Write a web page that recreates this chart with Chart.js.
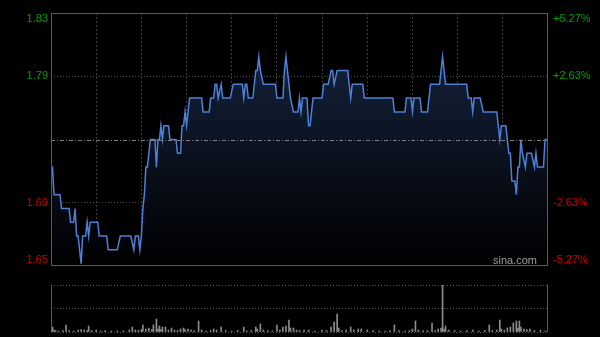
<!DOCTYPE html>
<html>
<head>
<meta charset="utf-8">
<script src="https://cdn.jsdelivr.net/npm/chart.js@4.4.0/dist/chart.umd.min.js"></script>
<style>
  html, body { margin: 0; padding: 0; background: #000; }
  #wrap { position: relative; width: 600px; height: 337px; background: #000; }
  #priceBox { position: absolute; left: 0; top: 0; width: 600px; height: 272px; }
  #volBox { position: absolute; left: 0; top: 272px; width: 600px; height: 65px; }
</style>
</head>
<body>
<div id="wrap">
  <div id="priceBox"><canvas id="priceChart"></canvas></div>
  <div id="volBox"><canvas id="volChart"></canvas></div>
</div>
<script>
// minute of the session (0..330) where the price changes, and the price there
const minutes = [0, 1, 2, 6, 7, 12, 13, 15, 16, 17, 18, 20, 21, 23, 24, 25, 26, 31, 32, 37,
  38, 44, 46, 53, 55, 56, 58, 59, 60, 61, 62, 63, 64, 65, 66, 69, 70, 71, 72, 73,
  74, 75, 78, 79, 83, 84, 86, 87, 88, 89, 90, 92, 100, 101, 105, 106, 108, 109, 110, 111,
  113, 114, 119, 121, 127, 128, 129, 130, 131, 134, 136, 137, 138, 139, 141, 149, 150, 154, 155, 156,
  158, 159, 161, 164, 165, 166, 167, 170, 171, 172, 174, 180, 181, 184, 186, 187, 188, 190, 197, 199,
  200, 207, 208, 227, 228, 235, 236, 239, 240, 241, 245, 246, 250, 252, 258, 260, 262, 276, 277, 279,
  280, 281, 285, 287, 296, 298, 299, 302, 304, 305, 306, 308, 309, 310, 311, 312, 313, 315, 316, 319,
  321, 322, 323, 327, 328, 330];
const prices = [1.72, 1.72, 1.70, 1.70, 1.69, 1.69, 1.68, 1.68, 1.69, 1.67, 1.67, 1.65, 1.67, 1.67, 1.68, 1.67, 1.68, 1.68, 1.67, 1.67,
  1.66, 1.66, 1.67, 1.67, 1.66, 1.67, 1.67, 1.66, 1.67, 1.69, 1.70, 1.72, 1.72, 1.73, 1.74, 1.74, 1.72, 1.74, 1.74, 1.75,
  1.74, 1.75, 1.75, 1.74, 1.74, 1.73, 1.73, 1.75, 1.75, 1.76, 1.75, 1.77, 1.77, 1.76, 1.76, 1.77, 1.77, 1.78, 1.78, 1.77,
  1.78, 1.77, 1.77, 1.78, 1.78, 1.77, 1.78, 1.78, 1.77, 1.77, 1.79, 1.79, 1.80, 1.79, 1.78, 1.78, 1.77, 1.77, 1.79, 1.80,
  1.78, 1.77, 1.76, 1.76, 1.77, 1.76, 1.77, 1.77, 1.75, 1.75, 1.77, 1.77, 1.78, 1.78, 1.79, 1.79, 1.78, 1.79, 1.79, 1.77,
  1.78, 1.78, 1.77, 1.77, 1.76, 1.76, 1.77, 1.77, 1.76, 1.77, 1.77, 1.76, 1.76, 1.78, 1.78, 1.80, 1.78, 1.78, 1.77, 1.77,
  1.76, 1.77, 1.77, 1.76, 1.76, 1.74, 1.75, 1.75, 1.73, 1.73, 1.71, 1.71, 1.70, 1.72, 1.72, 1.74, 1.73, 1.72, 1.73, 1.73,
  1.72, 1.73, 1.72, 1.72, 1.74, 1.74];

// volume bars (minute, relative size)
const volMinutes = [0, 1, 2, 3, 5, 8, 10, 12, 15, 18, 20, 22, 24, 25, 27, 30, 33, 36, 40, 44,
  48, 52, 54, 56, 58, 60, 61, 63, 65, 67, 68, 70, 71, 72, 73, 74, 76, 78, 80, 82,
  84, 86, 88, 89, 91, 93, 95, 98, 100, 103, 106, 108, 110, 113, 116, 120, 124, 128, 130, 133,
  136, 137, 139, 141, 144, 147, 150, 152, 154, 156, 158, 159, 161, 163, 165, 168, 171, 175, 180, 183,
  186, 188, 190, 191, 193, 196, 199, 201, 204, 206, 210, 214, 218, 222, 225, 228, 231, 235, 238, 240,
  242, 244, 247, 250, 253, 255, 257, 259, 260, 261, 262, 264, 268, 272, 276, 280, 284, 288, 291, 293,
  296, 298, 299, 301, 303, 305, 307, 309, 310, 311, 312, 314, 316, 318, 321, 325, 328, 330];
const volValues = [30, 50, 20, 15, 10, 15, 70, 15, 10, 20, 25, 20, 15, 60, 15, 20, 10, 15, 10, 10,
  10, 20, 50, 20, 15, 25, 70, 30, 40, 25, 70, 130, 30, 60, 25, 50, 50, 20, 40, 20,
  15, 30, 40, 25, 30, 20, 15, 110, 20, 10, 15, 30, 20, 50, 15, 10, 15, 50, 10, 15,
  50, 30, 80, 20, 15, 10, 70, 20, 50, 60, 120, 40, 40, 20, 15, 20, 20, 10, 20, 15,
  50, 100, 180, 40, 15, 20, 50, 20, 30, 30, 20, 15, 10, 10, 15, 70, 15, 10, 15, 30,
  110, 20, 15, 15, 90, 15, 30, 40, 470, 30, 60, 20, 15, 10, 15, 20, 10, 15, 70, 15,
  20, 120, 30, 20, 40, 50, 90, 110, 40, 110, 50, 30, 25, 30, 15, 20, 10, 10];

const prevClose = 1.74;
const tickValues = [1.8317, 1.7858, 1.74, 1.6942, 1.6483];
const priceLabels = ["1.83", "1.79", "", "1.69", "1.65"];
const pctLabels = ["+5.27%", "+2.63%", "", "-2.63%", "-5.27%"];

const GREEN = "#00a000";
const RED = "#d00000";
const FONT = "11px Arial, 'Liberation Sans', sans-serif";

const priceExtras = {
  id: "priceExtras",
  afterDatasetsDraw(chart) {
    // previous close line sits over the fill
    const { ctx, chartArea: a, scales } = chart;
    const y = Math.round(scales.y.getPixelForValue(prevClose)) + 0.5;
    ctx.save();
    ctx.strokeStyle = "#808080";
    ctx.lineWidth = 1;
    ctx.setLineDash([4, 2, 1, 2]);
    ctx.beginPath();
    ctx.moveTo(a.left, y);
    ctx.lineTo(a.right, y);
    ctx.stroke();
    ctx.restore();
  },
  afterDraw(chart) {
    const { ctx, chartArea: a, scales } = chart;
    ctx.save();
    // frame
    ctx.strokeStyle = "#5a5a5a";
    ctx.lineWidth = 1;
    ctx.strokeRect(a.left + 0.5, a.top + 0.5, a.right - a.left - 1, a.bottom - a.top - 1);

    ctx.font = FONT;
    ctx.textBaseline = "middle";
    tickValues.forEach((v, i) => {
      if (!priceLabels[i]) return;
      let py = scales.y.getPixelForValue(v);
      py = Math.min(Math.max(py, a.top + 6), a.bottom - 6);
      ctx.fillStyle = v > prevClose ? GREEN : RED;
      ctx.textAlign = "right";
      ctx.fillText(priceLabels[i], a.left - 3, py);
      ctx.textAlign = "left";
      ctx.fillText(pctLabels[i], a.right + 5, py);
    });

    ctx.fillStyle = "#a0a0a0";
    ctx.textAlign = "right";
    ctx.fillText("sina.com", a.right - 11, a.bottom - 5);
    ctx.restore();
  }
};

new Chart(document.getElementById("priceChart"), {
  type: "line",
  data: {
    datasets: [
      {
        data: minutes.map((m, i) => ({ x: m, y: prices[i] })),
        borderColor: "#4d80d6",
        borderWidth: 1.5,
        pointRadius: 0,
        tension: 0,
        fill: "start",
        backgroundColor: (context) => {
          const area = context.chart.chartArea;
          if (!area) return "rgba(0,0,0,0)";
          const g = context.chart.ctx.createLinearGradient(0, area.top, 0, area.bottom);
          g.addColorStop(0, "rgb(24,40,70)");
          g.addColorStop(1, "rgb(0,0,0)");
          return g;
        },
      },
    ],
  },
  options: {
    responsive: true,
    maintainAspectRatio: false,
    animation: false,
    layout: { padding: { left: 51, right: 52, top: 13, bottom: 6 } },
    plugins: { legend: { display: false }, tooltip: { enabled: false } },
    scales: {
      x: {
        type: "linear",
        min: 0,
        max: 330,
        z: 1,
        ticks: { display: false, stepSize: 30 },
        grid: {
          drawTicks: false,
          color: (c) => (c.tick && (c.tick.value === 0 || c.tick.value === 330) ? "rgba(0,0,0,0)" : "#3c3c3c"),
        },
        border: { display: false, dash: [2, 2] },
      },
      y: {
        min: 1.6483,
        max: 1.8317,
        z: 1,
        afterBuildTicks: (scale) => {
          scale.ticks = tickValues.map((v) => ({ value: v }));
        },
        ticks: { display: false },
        grid: {
          drawTicks: false,
          color: (c) => {
            const v = c.tick ? c.tick.value : null;
            if (v === 1.7858 || v === 1.6942) return "#4a4a4a";
            return "rgba(0,0,0,0)";
          },
        },
        border: { display: false, dash: [1, 2] },
      },
    },
  },
  plugins: [priceExtras],
});

const volExtras = {
  id: "volExtras",
  afterDraw(chart) {
    const { ctx, chartArea: a } = chart;
    ctx.save();
    ctx.strokeStyle = "#5a5a5a";
    ctx.lineWidth = 1;
    ctx.beginPath();
    ctx.moveTo(a.left + 0.5, a.top);
    ctx.lineTo(a.left + 0.5, a.bottom);
    ctx.moveTo(a.right - 0.5, a.top);
    ctx.lineTo(a.right - 0.5, a.bottom);
    ctx.stroke();
    ctx.restore();
  }
};

new Chart(document.getElementById("volChart"), {
  type: "bar",
  data: {
    datasets: [
      {
        data: volMinutes.map((m, i) => ({ x: m, y: volValues[i] })),
        backgroundColor: "#8c8c8c",
        barThickness: 1,
      },
    ],
  },
  options: {
    responsive: true,
    maintainAspectRatio: false,
    animation: false,
    layout: { padding: { left: 51, right: 52, top: 13, bottom: 5 } },
    plugins: { legend: { display: false }, tooltip: { enabled: false } },
    scales: {
      x: {
        type: "linear",
        min: 0,
        max: 330,
        offset: false,
        ticks: { display: false },
        grid: { display: false, drawTicks: false },
        border: { display: false },
      },
      y: {
        min: 0,
        max: 470,
        afterBuildTicks: (scale) => {
          scale.ticks = [{ value: 0 }, { value: 235 }, { value: 470 }];
        },
        ticks: { display: false },
        grid: { drawTicks: false, color: "#5a5a5a" },
        border: { display: false, dash: [1, 2] },
      },
    },
  },
  plugins: [volExtras],
});
</script>
</body>
</html>
